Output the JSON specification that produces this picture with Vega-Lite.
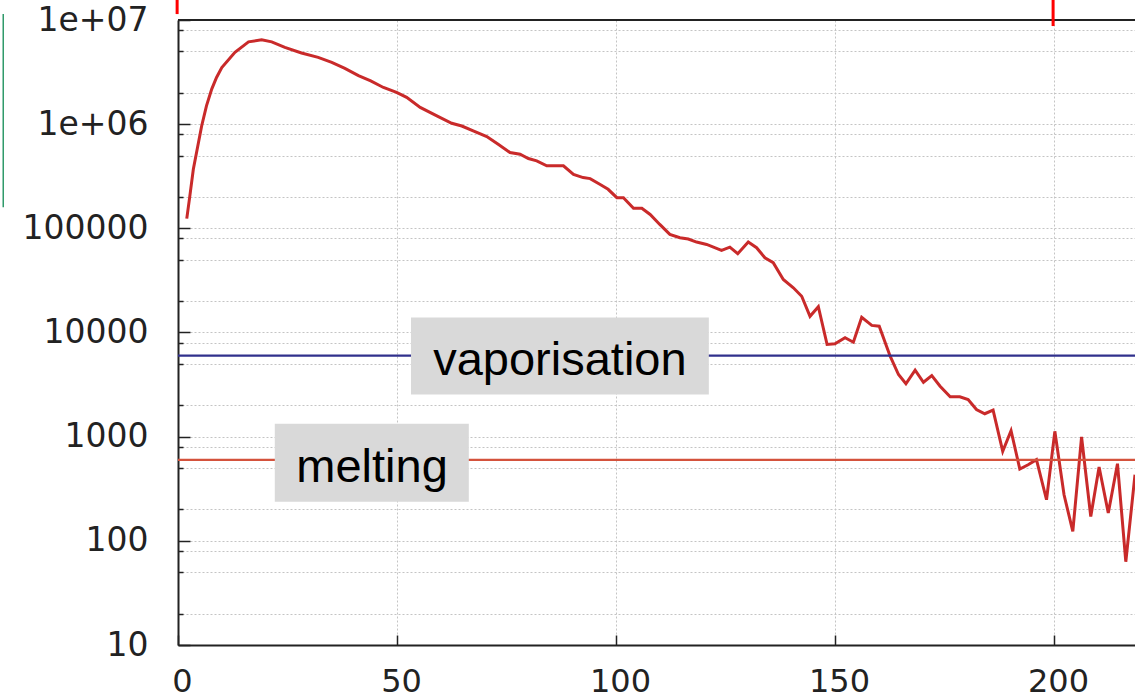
{
  "$schema": "https://vega.github.io/schema/vega-lite/v6.json",
  "width": 957,
  "height": 625,
  "autosize": {"type": "none"},
  "padding": {"left": 178, "top": 20, "right": 0, "bottom": 54},
  "background": "white",
  "config": {"view": {"stroke": null}},
  "datasets": {
    "series": [
      {"x": 2.0, "y": 124000}, {"x": 2.7, "y": 204000}, {"x": 3.5, "y": 369000}, {"x": 5.4, "y": 960000},
      {"x": 6.5, "y": 1500000}, {"x": 7.7, "y": 2170000}, {"x": 8.8, "y": 2810000}, {"x": 10.0, "y": 3500000},
      {"x": 13.0, "y": 4900000}, {"x": 16.1, "y": 6170000}, {"x": 19.1, "y": 6460000}, {"x": 21.4, "y": 6170000},
      {"x": 24.4, "y": 5460000}, {"x": 28.2, "y": 4820000}, {"x": 32.0, "y": 4380000}, {"x": 35.1, "y": 3920000},
      {"x": 38.1, "y": 3430000}, {"x": 41.2, "y": 2920000}, {"x": 44.0, "y": 2600000}, {"x": 46.9, "y": 2250000},
      {"x": 49.9, "y": 2020000}, {"x": 52.2, "y": 1810000}, {"x": 55.3, "y": 1450000}, {"x": 59.1, "y": 1200000},
      {"x": 62.5, "y": 1020000}, {"x": 64.8, "y": 960000}, {"x": 67.4, "y": 860000}, {"x": 70.5, "y": 760000},
      {"x": 73.1, "y": 640000}, {"x": 75.8, "y": 535000}, {"x": 78.1, "y": 515000}, {"x": 80.0, "y": 468000},
      {"x": 81.9, "y": 444000}, {"x": 84.2, "y": 398000}, {"x": 88.0, "y": 398000}, {"x": 90.3, "y": 330000},
      {"x": 92.5, "y": 307000}, {"x": 94.1, "y": 300000}, {"x": 96.3, "y": 265000}, {"x": 98.2, "y": 237000},
      {"x": 100.2, "y": 197000}, {"x": 101.7, "y": 197000}, {"x": 104.0, "y": 156000}, {"x": 105.9, "y": 156000},
      {"x": 107.8, "y": 136000}, {"x": 110.0, "y": 109000}, {"x": 112.3, "y": 87500}, {"x": 114.6, "y": 81300},
      {"x": 116.5, "y": 79000}, {"x": 118.4, "y": 73800}, {"x": 120.7, "y": 70000}, {"x": 124.1, "y": 61400},
      {"x": 126.0, "y": 66000}, {"x": 127.8, "y": 57100}, {"x": 130.2, "y": 73800}, {"x": 132.1, "y": 65200},
      {"x": 134.0, "y": 52200}, {"x": 135.9, "y": 46800}, {"x": 138.2, "y": 32300}, {"x": 140.5, "y": 26900},
      {"x": 142.4, "y": 22300}, {"x": 144.3, "y": 14300}, {"x": 146.2, "y": 17700}, {"x": 148.2, "y": 7670},
      {"x": 150.0, "y": 7800}, {"x": 152.3, "y": 8900}, {"x": 154.2, "y": 8070}, {"x": 156.1, "y": 14000},
      {"x": 158.4, "y": 11700}, {"x": 160.1, "y": 11500}, {"x": 162.6, "y": 5920}, {"x": 164.5, "y": 3950},
      {"x": 166.2, "y": 3220}, {"x": 168.3, "y": 4340}, {"x": 170.2, "y": 3330}, {"x": 172.1, "y": 3860},
      {"x": 174.0, "y": 3050}, {"x": 176.3, "y": 2410}, {"x": 178.5, "y": 2410}, {"x": 180.4, "y": 2270},
      {"x": 182.3, "y": 1820}, {"x": 184.2, "y": 1660}, {"x": 186.1, "y": 1800}, {"x": 188.3, "y": 723},
      {"x": 190.2, "y": 1140}, {"x": 192.2, "y": 489}, {"x": 194.1, "y": 538}, {"x": 196.0, "y": 601},
      {"x": 198.3, "y": 248}, {"x": 200.2, "y": 1125}, {"x": 202.3, "y": 277}, {"x": 204.3, "y": 123},
      {"x": 206.3, "y": 993}, {"x": 208.4, "y": 171}, {"x": 210.3, "y": 511}, {"x": 212.4, "y": 185},
      {"x": 214.5, "y": 550}, {"x": 216.4, "y": 63}, {"x": 218.5, "y": 431}
    ],
    "refs": [
      {"label": "vaporisation", "y": 6000},
      {"label": "melting", "y": 600}
    ],
    "boxes": [
      {"label": "vaporisation", "x": 87.2, "y": 5940, "x1": 53.2, "x2": 121.2, "y1": 2535, "y2": 13900},
      {"label": "melting", "x": 44.3, "y": 562, "x1": 22.1, "x2": 66.4, "y1": 237, "y2": 1334}
    ],
    "edges": [
      {"kind": "red", "x": -0.2, "y1": 11400000, "y2": 15900000},
      {"kind": "red", "x": 199.8, "y1": 8750000, "y2": 15900000},
      {"kind": "green", "x": -39.9, "y1": 159000, "y2": 11400000}
    ],
    "frame": [{"top": 10000000}]
  },
  "layer": [
    {
      "data": {"name": "series"},
      "mark": {"type": "line", "color": "#c92a2a", "strokeWidth": 3, "interpolate": "linear"},
      "encoding": {
        "x": {
          "field": "x", "type": "quantitative", "title": null,
          "scale": {"domain": [0, 218.5], "nice": false, "zero": false},
          "axis": {
            "values": [0, 50, 100, 150, 200],
            "format": "d",
            "labelFont": "DejaVu Sans", "labelFontSize": 32, "labelColor": "#222222",
            "labelFlush": false, "labelOffset": 4, "labelPadding": 31,
            "domainColor": "#222222", "domainWidth": 2,
            "tickColor": "#222222", "tickSize": -10, "tickWidth": 1.5,
            "grid": true, "gridColor": "#c4c4c4", "gridDash": [2, 2], "gridWidth": 1
          }
        },
        "y": {
          "field": "y", "type": "quantitative", "title": null,
          "scale": {"type": "log", "domain": [10, 10000000], "nice": false},
          "axis": {
            "values": [10, 20, 50, 80, 100, 200, 500, 800, 1000, 2000, 5000, 8000, 10000, 20000, 50000, 80000, 100000, 200000, 500000, 800000, 1000000, 2000000, 5000000, 8000000, 10000000],
            "labelExpr": "abs(log(datum.value)/LN10 - round(log(datum.value)/LN10)) > 0.001 ? '' : (datum.value >= 1000000 ? '1e+0' + round(log(datum.value)/LN10) : format(datum.value, 'd'))",
            "labelFont": "DejaVu Sans", "labelFontSize": 33, "labelColor": "#222222",
            "labelPadding": 42, "labelOverlap": false, "labelBound": false, "labelFlush": false,
            "domainColor": "#222222", "domainWidth": 2,
            "tickColor": "#222222", "tickWidth": 1.5,
            "tickSize": {"condition": {"test": "abs(log(datum.value)/LN10 - round(log(datum.value)/LN10)) < 0.001", "value": -12}, "value": -5},
            "grid": true, "gridColor": "#c4c4c4", "gridDash": [2, 2], "gridWidth": 1
          }
        }
      }
    },
    {
      "data": {"name": "refs"},
      "mark": {"type": "rule", "strokeWidth": 2.2},
      "encoding": {
        "y": {"field": "y", "type": "quantitative", "title": null, "scale": {"type": "log", "domain": [10, 10000000], "nice": false}},
        "color": {"field": "label", "type": "nominal", "legend": null, "scale": {"domain": ["vaporisation", "melting"], "range": ["#30308c", "#d4523c"]}}
      }
    },
    {
      "data": {"name": "boxes"},
      "mark": {"type": "rect", "color": "#d9d9d9", "opacity": 1},
      "encoding": {
        "x": {"field": "x1", "type": "quantitative", "title": null, "scale": {"domain": [0, 218.5], "nice": false, "zero": false}},
        "x2": {"field": "x2"},
        "y": {"field": "y1", "type": "quantitative", "title": null, "scale": {"type": "log", "domain": [10, 10000000], "nice": false}},
        "y2": {"field": "y2"}
      }
    },
    {
      "data": {"name": "boxes"},
      "mark": {"type": "text", "font": "Liberation Sans", "fontSize": 47, "color": "#000000", "align": "center", "baseline": "middle", "dy": 5},
      "encoding": {
        "x": {"field": "x", "type": "quantitative", "title": null, "scale": {"domain": [0, 218.5], "nice": false, "zero": false}},
        "y": {"field": "y", "type": "quantitative", "title": null, "scale": {"type": "log", "domain": [10, 10000000], "nice": false}},
        "text": {"field": "label"}
      }
    },
    {
      "data": {"name": "frame"},
      "mark": {"type": "rule", "color": "#222222", "strokeWidth": 2},
      "encoding": {
        "y": {"field": "top", "type": "quantitative", "title": null, "scale": {"type": "log", "domain": [10, 10000000], "nice": false}}
      }
    },
    {
      "data": {"name": "edges"},
      "transform": [{"filter": "datum.kind === 'red'"}],
      "mark": {"type": "rule", "color": "#ff0000", "strokeWidth": 3},
      "encoding": {
        "x": {"field": "x", "type": "quantitative", "title": null, "scale": {"domain": [0, 218.5], "nice": false, "zero": false}},
        "y": {"field": "y1", "type": "quantitative", "title": null, "scale": {"type": "log", "domain": [10, 10000000], "nice": false}},
        "y2": {"field": "y2"}
      }
    },
    {
      "data": {"name": "edges"},
      "transform": [{"filter": "datum.kind === 'green'"}],
      "mark": {"type": "rule", "color": "#2f9a6a", "strokeWidth": 1.5},
      "encoding": {
        "x": {"field": "x", "type": "quantitative", "title": null, "scale": {"domain": [0, 218.5], "nice": false, "zero": false}},
        "y": {"field": "y1", "type": "quantitative", "title": null, "scale": {"type": "log", "domain": [10, 10000000], "nice": false}},
        "y2": {"field": "y2"}
      }
    }
  ]
}
